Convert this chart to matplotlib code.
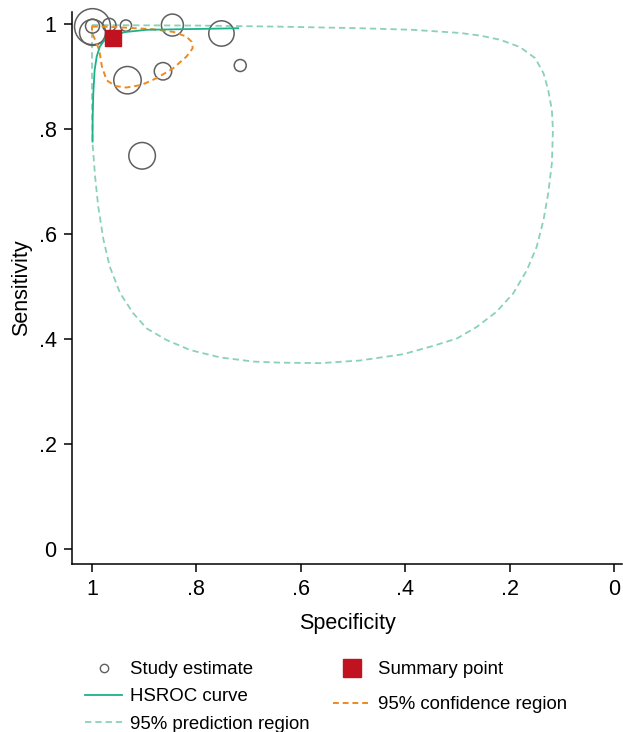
import numpy as np
import matplotlib.pyplot as plt
from matplotlib.lines import Line2D

plt.rcParams['font.family'] = ['Liberation Sans', 'DejaVu Sans']

# individual studies (specificity, sensitivity, relative weight)
study_spec = np.array([0.999, 0.999, 0.999, 0.967, 0.935, 0.846, 0.752, 0.716, 0.864, 0.932, 0.904])
study_sens = np.array([0.995, 0.984, 0.996, 0.998, 0.997, 0.998, 0.982, 0.921, 0.910, 0.893, 0.749])
study_weight = np.array([324, 169, 49, 45, 32, 121, 161, 36, 76, 188, 177])

# summary point
summary_spec = 0.960
summary_sens = 0.973

# HSROC curve
hsroc_spec = np.array([0.999, 0.9987, 0.9975, 0.995, 0.991, 0.985, 0.975, 0.959,
                       0.934, 0.895, 0.838, 0.774, 0.72])
hsroc_sens = np.array([0.776, 0.823, 0.868, 0.912, 0.938, 0.957, 0.971, 0.980,
                       0.985, 0.989, 0.990, 0.991, 0.992])

# 95% confidence region
conf_spec = np.array([1.0, 0.978, 0.934, 0.883, 0.844, 0.819, 0.809, 0.807, 0.819, 0.844,
                      0.876, 0.905, 0.934, 0.956, 0.972, 0.981, 0.986, 0.994, 1.0, 1.0])
conf_sens = np.array([0.995, 0.995, 0.993, 0.990, 0.985, 0.976, 0.966, 0.954, 0.938, 0.916,
                      0.897, 0.884, 0.879, 0.882, 0.893, 0.919, 0.950, 0.970, 0.983, 0.995])

# 95% prediction region
pred_spec = np.array([1.0, 0.793, 0.640, 0.487, 0.387, 0.295, 0.257, 0.218, 0.180, 0.151,
                      0.135, 0.126, 0.119, 0.117, 0.119, 0.126, 0.135, 0.148, 0.167, 0.193,
                      0.225, 0.263, 0.301, 0.346, 0.404, 0.487, 0.563, 0.640, 0.691, 0.755,
                      0.812, 0.857, 0.895, 0.921, 0.946, 0.966, 0.978, 0.988, 0.994, 0.999,
                      1.0, 1.0])
pred_sens = np.array([0.998, 0.997, 0.995, 0.992, 0.989, 0.983, 0.978, 0.970, 0.956, 0.935,
                      0.906, 0.874, 0.836, 0.798, 0.735, 0.678, 0.627, 0.576, 0.531, 0.487,
                      0.452, 0.423, 0.401, 0.387, 0.371, 0.359, 0.354, 0.355, 0.357, 0.365,
                      0.379, 0.398, 0.420, 0.449, 0.487, 0.538, 0.589, 0.652, 0.709, 0.773,
                      0.855, 0.998])

tick_vals = [1, 0.8, 0.6, 0.4, 0.2, 0]
tick_labels = ['1', '.8', '.6', '.4', '.2', '0']

green = '#1db18a'
green_light = '#8ad2b6'
orange = '#f0891f'
red = '#c1121f'
grey = '#5f5f5f'

fig = plt.figure(figsize=(6.23, 7.32), dpi=100)
ax = fig.add_axes([72 / 623, 1 - 564 / 732, 550 / 623, 552 / 732])

ax.plot(pred_spec, pred_sens, color=green_light, lw=1.3, linestyle=(0, (3.5, 2.2)))
ax.scatter(study_spec, study_sens, s=study_weight * 2.07, facecolors='none',
           edgecolors=grey, linewidths=1.1, zorder=3, clip_on=False)
ax.plot(conf_spec, conf_sens, color=orange, lw=1.4, linestyle=(0, (3, 2)), zorder=4)
ax.plot(hsroc_spec, hsroc_sens, color=green, lw=1.3, zorder=5)
ax.scatter([summary_spec], [summary_sens], marker='s', s=135, color=red, zorder=6)

ax.set_xlim(1.0383, -0.0153)
ax.set_ylim(-0.0286, 1.0229)
ax.set_xticks(tick_vals)
ax.set_xticklabels(tick_labels)
ax.set_yticks(tick_vals)
ax.set_yticklabels(tick_labels)
ax.tick_params(direction='out', length=6, width=1.1, labelsize=15.5, pad=5)
for side in ['top', 'right']:
    ax.spines[side].set_visible(False)
for side in ['left', 'bottom']:
    ax.spines[side].set_linewidth(1.1)
ax.set_xlabel('Specificity', fontsize=15.5, labelpad=9)
ax.set_ylabel('Sensitivity', fontsize=15.5, labelpad=4.5)

h_study = Line2D([], [], marker='o', markersize=6, markerfacecolor='none',
                 markeredgecolor=grey, markeredgewidth=1.0, linestyle='none')
h_hsroc = Line2D([], [], color=green, lw=1.3)
h_pred = Line2D([], [], color=green_light, lw=1.3, linestyle=(0, (3.5, 2.2)))
h_summary = Line2D([], [], marker='s', markersize=13, color=red, linestyle='none')
h_conf = Line2D([], [], color=orange, lw=1.4, linestyle=(0, (3, 2)))

fig.legend([h_study, h_hsroc, h_pred],
           ['Study estimate', 'HSROC curve', '95% prediction region'],
           loc='upper left', bbox_to_anchor=(85 / 623, 1 - 661 / 732),
           frameon=False, fontsize=13.4, handlelength=2.0, handletextpad=0.43,
           labelspacing=0.55, borderpad=0, borderaxespad=0)
fig.legend([h_summary, h_conf],
           ['Summary point', '95% confidence region'],
           loc='upper left', bbox_to_anchor=(333 / 623, 1 - 661 / 732),
           frameon=False, fontsize=13.4, handlelength=2.0, handletextpad=0.43,
           labelspacing=0.98, borderpad=0, borderaxespad=0)

fig.savefig('out.png', dpi=100)
